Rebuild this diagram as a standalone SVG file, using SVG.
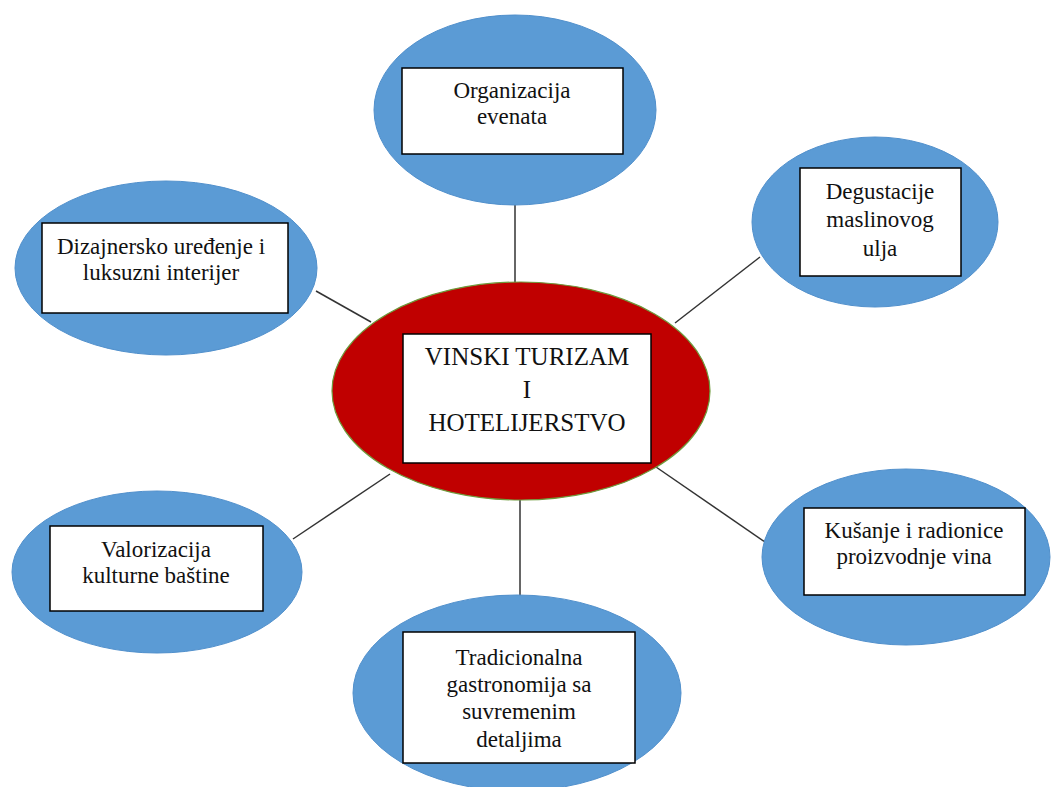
<svg xmlns="http://www.w3.org/2000/svg" width="1051" height="787" viewBox="0 0 1051 787">
<style>
.sat{fill:#5B9BD5;stroke:#5190CC;stroke-width:1}
.box{fill:#ffffff;stroke:#000000;stroke-width:1.5}
.t{font-family:'Liberation Serif','Times New Roman','DejaVu Serif',serif;font-size:23px;fill:#111;text-anchor:middle}
.tc{font-family:'Liberation Serif','Times New Roman','DejaVu Serif',serif;font-size:25px;fill:#111;text-anchor:middle}
.ln{stroke:#333;stroke-width:1.5;fill:none}
</style>
<rect width="1051" height="787" fill="#ffffff"/>
<g id="connectors">
<line class="ln" x1="515" y1="205" x2="515" y2="284"/>
<line class="ln" x1="675" y1="323" x2="760" y2="257"/>
<line class="ln" x1="316" y1="291" x2="371" y2="322"/>
<line class="ln" x1="293" y1="539" x2="390" y2="474"/>
<line class="ln" x1="656" y1="467" x2="765" y2="542"/>
<line class="ln" x1="520" y1="500" x2="520" y2="596"/>
</g>
<g id="center">
<ellipse cx="521" cy="391" rx="189" ry="109" fill="#C00000" stroke="#6E9A3C" stroke-width="1.2"/>
<rect class="box" x="403" y="334" width="248" height="129"/>
<text class="tc" x="527" y="365">VINSKI TURIZAM</text>
<text class="tc" x="527" y="398">I</text>
<text class="tc" x="527" y="431">HOTELIJERSTVO</text>
</g>
<g id="node-top">
<ellipse class="sat" cx="515" cy="110" rx="141" ry="95"/>
<rect class="box" x="402" y="68" width="221" height="86"/>
<text class="t" x="512" y="98">Organizacija</text>
<text class="t" x="512" y="124">evenata</text>
</g>
<g id="node-top-right">
<ellipse class="sat" cx="875" cy="222" rx="123" ry="85"/>
<rect class="box" x="800" y="168" width="161" height="108"/>
<text class="t" x="880" y="199">Degustacije</text>
<text class="t" x="880" y="227">maslinovog</text>
<text class="t" x="880" y="256">ulja</text>
</g>
<g id="node-top-left">
<ellipse class="sat" cx="166" cy="268" rx="151" ry="87"/>
<rect class="box" x="42" y="223" width="246" height="90"/>
<text class="t" x="161" y="254">Dizajnersko uređenje i</text>
<text class="t" x="161" y="280">luksuzni interijer</text>
</g>
<g id="node-bottom-left">
<ellipse class="sat" cx="157" cy="572" rx="145" ry="81"/>
<rect class="box" x="50" y="526" width="213" height="85"/>
<text class="t" x="156" y="557">Valorizacija</text>
<text class="t" x="156" y="583">kulturne baštine</text>
</g>
<g id="node-bottom-right">
<ellipse class="sat" cx="906" cy="557" rx="144" ry="88"/>
<rect class="box" x="804" y="508" width="221" height="87"/>
<text class="t" x="914" y="538">Kušanje i radionice</text>
<text class="t" x="914" y="564">proizvodnje vina</text>
</g>
<g id="node-bottom">
<ellipse class="sat" cx="517" cy="693" rx="164" ry="98"/>
<rect class="box" x="403" y="632" width="232" height="131"/>
<text class="t" x="519" y="665">Tradicionalna</text>
<text class="t" x="519" y="692">gastronomija sa</text>
<text class="t" x="519" y="719">suvremenim</text>
<text class="t" x="519" y="747">detaljima</text>
</g>
</svg>
